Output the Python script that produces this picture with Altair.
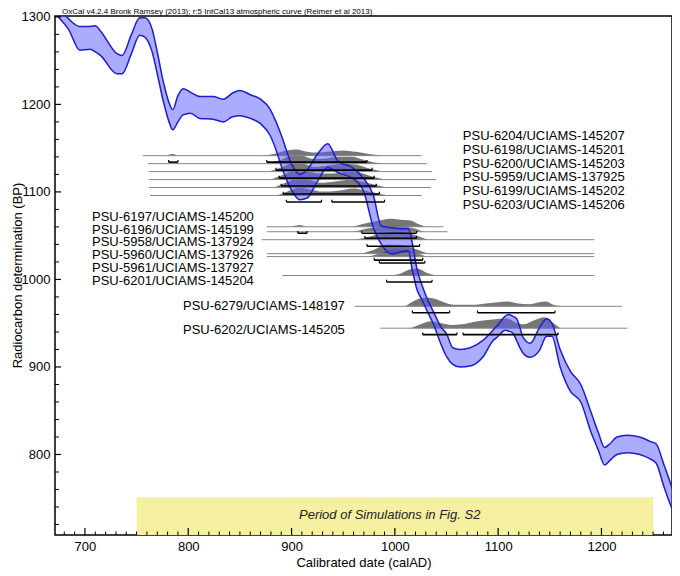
import altair as alt
import pandas as pd

FONT = "Liberation Sans"
X_DOMAIN = [671, 1268.3]
Y_DOMAIN = [708, 1301]
W, H = 617, 519

# ---- calibration curve (IntCal13 band, 1 sigma) ----
curve_year = [671, 674, 684, 695, 705, 710, 715, 731, 736, 745, 753, 758, 765, 770, 776, 782, 785, 790,
              795, 802, 811, 824, 834, 843, 850, 860, 870, 879, 885, 890, 900, 908, 915, 925, 935, 945,
              960, 970, 979, 987, 997, 1005, 1013, 1017, 1021, 1027, 1032, 1037, 1045, 1050, 1056, 1063,
              1073, 1085, 1095, 1099, 1107, 1110, 1114, 1118, 1121, 1124, 1131, 1140, 1147, 1152, 1160,
              1170, 1180, 1190, 1197, 1203, 1208, 1215, 1225, 1237, 1247, 1253, 1260, 1266, 1272]
curve_upper = [1318, 1313, 1298, 1289, 1289, 1290, 1284, 1258, 1256, 1280, 1299, 1299, 1286, 1260, 1225,
               1200, 1194, 1210, 1218, 1214, 1209, 1209, 1206, 1213, 1216, 1211, 1206, 1195, 1180, 1165,
               1132, 1120, 1125, 1143, 1155, 1135, 1127, 1115, 1097, 1061, 1059, 1058, 1058, 1041, 1014,
               991, 976, 964, 945, 938, 922, 920, 922, 930, 942, 947, 958, 960, 958, 955, 945, 934, 927,
               945, 955, 950, 920, 895, 880, 848, 825, 808, 812, 820, 822, 820, 815, 812, 790, 770, 748]
curve_lower = [1304, 1300, 1286, 1262, 1263, 1260, 1256, 1235, 1235, 1258, 1279, 1277, 1260, 1235, 1203,
               1178, 1171, 1180, 1188, 1190, 1184, 1183, 1180, 1186, 1187, 1184, 1178, 1165, 1148, 1130,
               1102, 1091, 1093, 1112, 1128, 1122, 1115, 1100, 1060, 1040, 1029, 1031, 1033, 1010, 990,
               975, 962, 950, 925, 912, 903, 900, 901, 911, 930, 934, 942, 941, 939, 930, 922, 916, 911,
               919, 935, 935, 900, 872, 860, 825, 805, 788, 793, 800, 802, 800, 795, 790, 765, 745, 728]

# ---- samples ----
sample_labels = ["PSU-6204/UCIAMS-145207", "PSU-6198/UCIAMS-145201", "PSU-6200/UCIAMS-145203",
                 "PSU-5959/UCIAMS-137925", "PSU-6199/UCIAMS-145202", "PSU-6203/UCIAMS-145206",
                 "PSU-6197/UCIAMS-145200", "PSU-6196/UCIAMS-145199", "PSU-5958/UCIAMS-137924",
                 "PSU-5960/UCIAMS-137926", "PSU-5961/UCIAMS-137927", "PSU-6201/UCIAMS-145204",
                 "PSU-6279/UCIAMS-148197", "PSU-6202/UCIAMS-145205"]
sample_bp = [1141.4, 1132.3, 1123.2, 1114.1, 1105.0, 1095.9,
             1060.2, 1054.5, 1045.4, 1029.5, 1026.1, 1004.5,
             969.3, 944.3]
line_start = [756, 761, 762, 762, 762, 763, 876, 876, 871, 876, 876, 891, 961, 986]
line_end = [1026, 1031, 1036, 1040, 1035, 1026, 1047, 1051, 1193, 1193, 1193, 1193, 1220, 1225]
label_year = [1065.8] * 6 + [706.8] * 6 + [794.9] * 2
label_bp = [1163.5, 1147.6, 1132.3, 1117.0, 1101.0, 1085.2,
            1071.5, 1056.4, 1042.3, 1028.0, 1012.8, 998.5,
            969.3, 942.8]

# 95.4% ranges (sample index, from, to)
bracket_sample = [0, 0, 1, 2, 3, 4, 5, 5, 6, 6, 7, 8, 9, 10, 11, 12, 12, 13, 13]
bracket_from = [781, 876, 885, 888, 890, 892, 895, 939, 906, 968, 971, 973, 980, 985, 992, 1017, 1080, 1027, 1066]
bracket_to = [790, 973, 978, 980, 982, 985, 929, 990, 915, 1021, 1021, 1024, 1027, 1029, 1036, 1053, 1155, 1060, 1158]

# ---- calibrated distributions (year, drawn height in BP units) ----
d0_yr = [779, 785, 791, 870, 885, 895, 905, 915, 925, 935, 950, 962, 975, 990]
d0_h = [0, 2, 0, 0, 2.5, 6, 7, 4.5, 3.5, 4.5, 6, 4.5, 2, 0]
d1_yr = [876, 890, 900, 910, 920, 930, 945, 958, 970, 982, 992]
d1_h = [0, 4.5, 9, 9, 5.5, 5.5, 8, 8, 4.5, 1, 0]
d2_yr = [878, 892, 902, 912, 922, 935, 950, 962, 975, 988]
d2_h = [0, 5.5, 10, 9, 5.5, 7, 9, 8, 3.5, 0]
d3_yr = [880, 895, 905, 915, 925, 940, 955, 965, 978, 990]
d3_h = [0, 7, 11, 10, 7, 7, 9, 8, 3.5, 0]
d4_yr = [883, 897, 907, 917, 928, 942, 957, 968, 980, 992]
d4_h = [0, 7, 11, 9, 5.5, 7, 9, 7, 3.5, 0]
d5_yr = [886, 898, 908, 918, 930, 945, 960, 972, 985, 995]
d5_h = [0, 5.5, 9, 7, 4.5, 5.5, 8, 5.5, 2, 0]
d6_yr = [900, 908, 916, 955, 970, 985, 995, 1005, 1015, 1022, 1030]
d6_h = [0, 2, 0, 0, 3.5, 7, 9, 8, 7, 3.5, 0]
d7_yr = [960, 972, 985, 1000, 1012, 1020, 1028]
d7_h = [0, 3.5, 5.5, 7, 5.5, 3.5, 0]
d8_yr = [962, 975, 990, 1005, 1015, 1024, 1032]
d8_h = [0, 3.5, 8, 9, 7, 3.5, 0]
d9_yr = [968, 980, 992, 1002, 1012, 1022, 1032]
d9_h = [0, 4.5, 10, 10, 8, 4.5, 0]
d10_yr = [975, 988, 1000, 1010, 1020, 1030]
d10_h = [0, 4.5, 8, 7, 4.5, 0]
d11_yr = [995, 1005, 1015, 1022, 1030, 1040]
d11_h = [0, 2, 7, 8, 3.5, 0]
d12_yr = [1010, 1020, 1030, 1040, 1050, 1060, 1075, 1090, 1100, 1108, 1118, 1130, 1140, 1146, 1155, 1165]
d12_h = [0, 7, 10, 8, 3.5, 1.7, 1.7, 3.5, 4.5, 5.5, 3.5, 2.3, 4.5, 5.5, 1.2, 0]
d13_yr = [1015, 1025, 1035, 1045, 1055, 1065, 1080, 1095, 1108, 1118, 1125, 1135, 1145, 1152, 1160]
d13_h = [0, 4.5, 8, 5.5, 3.5, 4.5, 8, 10, 11, 6, 4.5, 9, 12.5, 7, 0]

dist_years = [d0_yr, d1_yr, d2_yr, d3_yr, d4_yr, d5_yr, d6_yr, d7_yr, d8_yr, d9_yr, d10_yr, d11_yr, d12_yr, d13_yr]
dist_heights = [d0_h, d1_h, d2_h, d3_h, d4_h, d5_h, d6_h, d7_h, d8_h, d9_h, d10_h, d11_h, d12_h, d13_h]

# ---- axis ticks ----
x_major = [700, 800, 900, 1000, 1100, 1200]
x_minor = [v for v in range(680, 1270, 10) if v % 100 != 0]
y_major = [800, 900, 1000, 1100, 1200, 1300]
y_minor = [v for v in range(720, 1300, 20) if v % 100 != 0]

period_from, period_to, period_top = 750, 1250, 751
period_text = "Period of Simulations in Fig. S2"
period_text_year, period_text_bp = 995, 731
header = "OxCal v4.2.4 Bronk Ramsey (2013); r:5 IntCal13 atmospheric curve (Reimer et al 2013)"
BRACKET_OFFSET = 7.4

# ---- tables ----
curve_df = pd.DataFrame({"yr": curve_year, "up": curve_upper, "lo": curve_lower})
dist_rows = []
for i, (yrs, hs) in enumerate(zip(dist_years, dist_heights)):
    for yv, hv in zip(yrs, hs):
        dist_rows.append({"id": i, "yr": yv, "base": sample_bp[i], "top": sample_bp[i] + hv})
dist_df = pd.DataFrame(dist_rows)
line_df = pd.DataFrame({"x1": line_start, "x2": line_end, "bp": sample_bp})
label_df = pd.DataFrame({"yr": label_year, "bp": label_bp, "label": sample_labels})
br_df = pd.DataFrame({"x1": bracket_from, "x2": bracket_to,
                      "bp": [sample_bp[i] - BRACKET_OFFSET for i in bracket_sample]})
br_df["tip"] = br_df["bp"] + 2.6
br_ends = pd.concat([br_df[["x1", "bp", "tip"]].rename(columns={"x1": "x"}),
                     br_df[["x2", "bp", "tip"]].rename(columns={"x2": "x"})])
period_df = pd.DataFrame({"x1": [period_from], "x2": [period_to], "y1": [Y_DOMAIN[0]], "y2": [period_top]})
period_text_df = pd.DataFrame({"yr": [period_text_year], "bp": [period_text_bp], "t": [period_text]})

xs = alt.Scale(domain=X_DOMAIN, nice=False, zero=False)
ys = alt.Scale(domain=Y_DOMAIN, nice=False, zero=False)
x_axis = alt.Axis(values=x_major, format="d", ticks=False, domain=False, grid=False, labelFont=FONT,
                  labelFontSize=13, labelColor="black", labelPadding=5, title="Calibrated date (calAD)",
                  titleFont=FONT, titleFontSize=13, titleFontWeight="normal", titleColor="black", titlePadding=3)
y_axis = alt.Axis(values=y_major, format="d", ticks=False, domain=False, grid=False, labelFont=FONT,
                  labelFontSize=13, labelColor="black", labelPadding=5, title="Radiocarbon determination (BP)",
                  titleFont=FONT, titleFontSize=13, titleFontWeight="normal", titleColor="black",
                  titleX=-38, titleY=259, titleBaseline="middle", titleAlign="center", titleAngle=270)


def X(f):
    return alt.X(f, type="quantitative", scale=xs, axis=x_axis)


def Y(f):
    return alt.Y(f, type="quantitative", scale=ys, axis=y_axis)


period = alt.Chart(period_df).mark_rect(color="#f4f0a0").encode(
    x=X("x1"), x2="x2", y=Y("y1"), y2="y2")
period_lbl = alt.Chart(period_text_df).mark_text(font=FONT, fontSize=13, fontStyle="italic", color="#222").encode(
    x=X("yr"), y=Y("bp"), text="t:N")

dists = alt.Chart(dist_df).mark_area(color="#484848", opacity=0.75, interpolate="monotone", clip=True).encode(
    x=X("yr"), y=Y("base"), y2="top", detail="id:N")

lines = alt.Chart(line_df).mark_rule(color="#858585", strokeWidth=1).encode(
    x=X("x1"), x2="x2", y=Y("bp"))

band = alt.Chart(curve_df).mark_area(color="#5a5aff", opacity=0.5, interpolate="monotone", clip=True).encode(
    x=X("yr"), y=Y("lo"), y2="up")
edge_up = alt.Chart(curve_df).mark_line(color="#1c1cd0", strokeWidth=1.5, interpolate="monotone", clip=True).encode(
    x=X("yr"), y=Y("up"))
edge_lo = alt.Chart(curve_df).mark_line(color="#1c1cd0", strokeWidth=1.5, interpolate="monotone", clip=True).encode(
    x=X("yr"), y=Y("lo"))

brackets = alt.Chart(br_df).mark_rule(color="black", strokeWidth=1.6).encode(
    x=X("x1"), x2="x2", y=Y("bp"))
bracket_tips = alt.Chart(br_ends).mark_rule(color="black", strokeWidth=1.2).encode(
    x=X("x"), y=Y("bp"), y2="tip")

labels = alt.Chart(label_df).mark_text(font=FONT, fontSize=13, align="left", baseline="middle", color="black").encode(
    x=X("yr"), y=Y("bp"), text="label:N")

xt_major = alt.Chart(pd.DataFrame({"v": x_major})).mark_rule(color="black", strokeWidth=1.2).encode(
    x=X("v"), y=alt.value(H), y2=alt.value(H - 7))
xt_minor = alt.Chart(pd.DataFrame({"v": x_minor})).mark_rule(color="black", strokeWidth=1).encode(
    x=X("v"), y=alt.value(H), y2=alt.value(H - 3.5))
yt_major = alt.Chart(pd.DataFrame({"v": y_major})).mark_rule(color="black", strokeWidth=1.2).encode(
    y=Y("v"), x=alt.value(0), x2=alt.value(6))
yt_minor = alt.Chart(pd.DataFrame({"v": y_minor})).mark_rule(color="black", strokeWidth=1).encode(
    y=Y("v"), x=alt.value(0), x2=alt.value(4))

head = alt.Chart(pd.DataFrame({"t": [header]})).mark_text(font=FONT, fontSize=8, align="left", baseline="middle",
                                                          color="black").encode(
    x=alt.value(7), y=alt.value(-4), text="t:N")

chart = alt.layer(period, period_lbl, dists, lines, band, edge_up, edge_lo, brackets, bracket_tips, labels,
                  xt_major, xt_minor, yt_major, yt_minor, head).properties(
    width=W, height=H, autosize=alt.AutoSizeParams(type="none"),
    padding={"left": 47, "top": 8, "right": 0, "bottom": 40}
).configure(background="white").configure_view(stroke="black", strokeWidth=1.5)

chart.save("out.html", embed_options={"renderer": "svg", "actions": False})
